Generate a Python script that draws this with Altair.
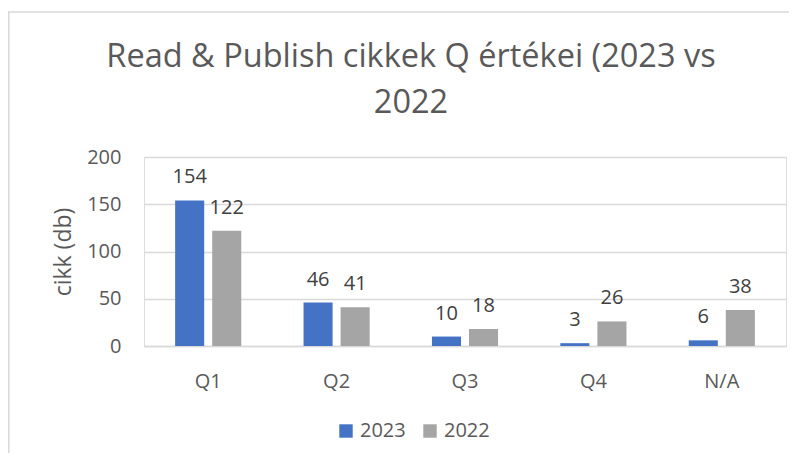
import altair as alt
import pandas as pd

categories = ["Q1", "Q2", "Q3", "Q4", "N/A"]
years = ["2023", "2022"]
values_2023 = [154, 46, 10, 3, 6]
values_2022 = [122, 41, 18, 26, 38]
y_ticks = [0, 50, 100, 150, 200]
colors = ["#4472C4", "#A5A5A5"]

rows = []
for c, a, b in zip(categories, values_2023, values_2022):
    rows.append({"cat": c, "year": "2023", "value": a})
    rows.append({"cat": c, "year": "2022", "value": b})
df = pd.DataFrame(rows)

FONT = "Open Sans"
GRID = "#D9D9D9"

x_enc = alt.X("cat:N", sort=categories, title=None,
              scale=alt.Scale(paddingInner=0.485, paddingOuter=0.2425),
              axis=alt.Axis(labelAngle=0, ticks=False, domainColor=GRID, domainWidth=1.5,
                            labelFontSize=20, labelColor="#595959", labelFont=FONT,
                            labelPadding=25))
xo_enc = alt.XOffset("year:N", sort=years,
                     scale=alt.Scale(paddingInner=0.216, paddingOuter=0))
y_enc = alt.Y("value:Q", title="cikk (db)",
              scale=alt.Scale(domain=[0, 200], nice=False),
              axis=alt.Axis(values=y_ticks, ticks=False, domain=False, gridColor=GRID,
                            gridWidth=1.5, labelFontSize=20, labelColor="#595959",
                            labelFont=FONT, labelPadding=23, titleFontSize=23,
                            titleFont=FONT, titleColor="#595959", titleFontWeight="normal",
                            titleX=-81, titleY=94.5, titleBaseline="middle"))

base = alt.Chart(df)
bars = base.mark_bar().encode(
    x=x_enc, xOffset=xo_enc, y=y_enc,
    color=alt.Color("year:N", sort=years,
                    scale=alt.Scale(domain=years, range=colors),
                    legend=alt.Legend(title=None, orient="none", direction="horizontal",
                                      legendX=192, legendY=264, symbolType="square",
                                      symbolSize=180, symbolStrokeWidth=0,
                                      labelFontSize=20, labelFont=FONT, labelColor="#595959",
                                      columnPadding=14, labelOffset=4)),
)
labels = base.mark_text(dy=-17, baseline="alphabetic", fontSize=20, font=FONT,
                        color="#404040").encode(
    x=x_enc, xOffset=xo_enc, y=y_enc, text="value:Q")

frame_df = pd.DataFrame({"a": [0]})
left_line = alt.Chart(frame_df).mark_rule(color=GRID, strokeWidth=1.5).encode(
    x=alt.value(-135.2), y=alt.value(-145), y2=alt.value(320))
top_line = alt.Chart(frame_df).mark_rule(color=GRID, strokeWidth=1.5).encode(
    x=alt.value(-136), x2=alt.value(660), y=alt.value(-145))

chart = alt.layer(bars, labels, left_line, top_line).properties(
    width=642, height=189,
    autosize=alt.AutoSizeParams(type="none"),
    padding={"left": 136, "top": 149, "right": 3, "bottom": 107},
    title=alt.TitleParams(["Read & Publish cikkek Q értékei (2023 vs", "2022"],
                          anchor="middle", frame="group", dx=-54, fontSize=32.5,
                          font=FONT, fontWeight="normal", color="#595959",
                          lineHeight=46, offset=-108),
).configure_view(stroke=None).configure(background="white")

chart.save("out.html", embed_options={"renderer": "svg", "actions": False})
